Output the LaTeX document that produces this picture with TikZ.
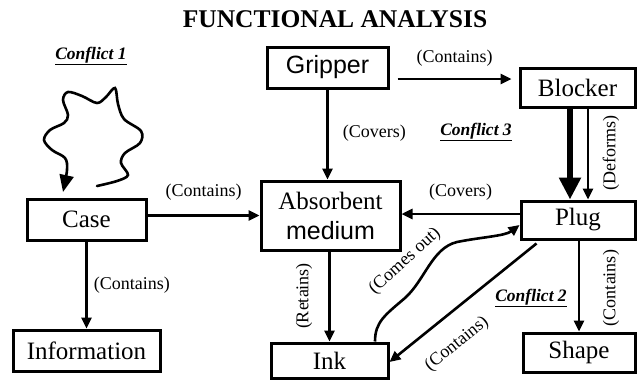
\documentclass[tikz,border=0pt]{standalone}
\usepackage{fontspec}
\setmainfont{Liberation Serif}
\newfontfamily\arialf{Liberation Sans}
\usetikzlibrary{arrows.meta,calc}
\begin{document}
\begin{tikzpicture}[x=1pt,y=-1pt,
  box/.style={draw,line width=3pt,inner sep=0pt,font=\fontsize{25}{31}\selectfont,align=center},
  lbl/.style={font=\fontsize{18}{20}\selectfont,inner sep=0pt},
  arr/.style={line width=2.6pt,-{Triangle[length=11pt,width=10pt]}},
  bigarr/.style={line width=5.5pt,-{Triangle[length=22pt,width=21pt]}},
  conf/.style={font=\fontsize{17.5}{20}\selectfont\bfseries\itshape,inner sep=0pt}]
\useasboundingbox (0,0) rectangle (638,381);

\node[font=\fontsize{25.5}{28}\selectfont\bfseries] (title) at (335,19.5) {FUNCTIONAL ANALYSIS};

\node[box,minimum width=121pt,minimum height=41pt] (gripper) at (327.5,67.5) {\arialf Gripper};
\node[box,minimum width=115pt,minimum height=39pt] (blocker) at (577.5,87.5) {Blocker};
\node[box,minimum width=119pt,minimum height=41pt] (case) at (86.5,219.5) {Case};
\node[box,minimum width=139pt,minimum height=69pt] (absorbent) at (330.5,215.5) {Absorbent\\[-1pt]{\arialf medium}};
\node[box,minimum width=114pt,minimum height=38pt] (plug) at (578,220) {Plug};
\node[box,minimum width=147pt,minimum height=41pt] (information) at (86.5,350.5) {Information};
\node[box,minimum width=117pt,minimum height=35pt] (ink) at (329.5,360.5) {Ink};
\node[box,minimum width=112pt,minimum height=39pt] (shape) at (579,352.5) {Shape};

\node[conf] (c1) at (91,56) {\underline{Conflict 1}};
\node[conf] (c3) at (476,132) {\underline{Conflict 3}};
\node[conf] (c2) at (531,298) {\underline{Conflict 2}};

% self loop on Case
\draw[line width=2.6pt,line cap=round,-{Triangle[length=17pt,width=14pt]}]
  plot[smooth,tension=0.55] coordinates {(97,186) (117,181) (128,175) (121,163) (125,153) (140,143) (141,131) (124,119) (118,104) (115,88) (106,97) (97,103) (82,96) (68,92) (63,100) (68,115) (64,123) (50,130) (44,140) (52,150) (65,158) (67,170) (63,192)};

% Gripper -> Blocker
\draw[arr] ([shift={(8,11.5)}]gripper.east) -- ([shift={(-7,-8.5)}]blocker.west)
  node[lbl,midway,above=11pt] {(Contains)};
% Gripper -> Absorbent
\draw[arr] (gripper.south) -- (gripper.south |- absorbent.north)
  node[lbl,pos=0.48,right=14pt] {(Covers)};
% Blocker -> Plug
\draw[bigarr] ([xshift=-7.5pt]blocker.south) -- ([xshift=-7.5pt]blocker.south |- plug.north);
\draw[arr] ([xshift=10.5pt]blocker.south) -- ([xshift=10.5pt]blocker.south |- plug.north);
\node[lbl,rotate=90] (deforms) at (611,153) {(Deforms)};
% Plug -> Absorbent
\draw[arr] ([yshift=6pt]plug.west) -- ([yshift=6pt]plug.west -| absorbent.east)
  node[lbl,pos=0.5,above=12pt] {(Covers)};
% Case -> Absorbent
\draw[arr] (case.east |- absorbent.west) -- (absorbent.west)
  node[lbl,midway,above=14pt] {(Contains)};
% Case -> Information
\draw[arr] (case.south) -- (information.north)
  node[lbl,midway,right=6pt] {(Contains)};
% Absorbent -> Ink
\draw[arr] (ink.north |- absorbent.south) -- (ink.north);
\node[lbl,rotate=90] (retains) at (304,296) {(Retains)};
% Plug -> Shape
\draw[arr] (shape.north |- plug.south) -- (shape.north);
\node[lbl,rotate=90] (contains4) at (611,288) {(Contains)};
% Plug -> Ink
\draw[arr] ([shift={(17,3)}]plug.south west) -- ([yshift=-1.5pt]ink.east);
\node[lbl,rotate=39] (contains3) at (457,344) {(Contains)};
% Ink -> Plug (Comes out)
\draw[arr] ([xshift=45.5pt]ink.north) .. controls (375,322) and (385,315) .. (405,298)
  .. controls (425,280) and (432,248) .. (457,242)
  .. controls (482,237) and (505,236) .. ([yshift=-5pt]plug.west);
\node[lbl,rotate=42] (comesout) at (405,261) {(Comes out)};
\end{tikzpicture}
\end{document}
